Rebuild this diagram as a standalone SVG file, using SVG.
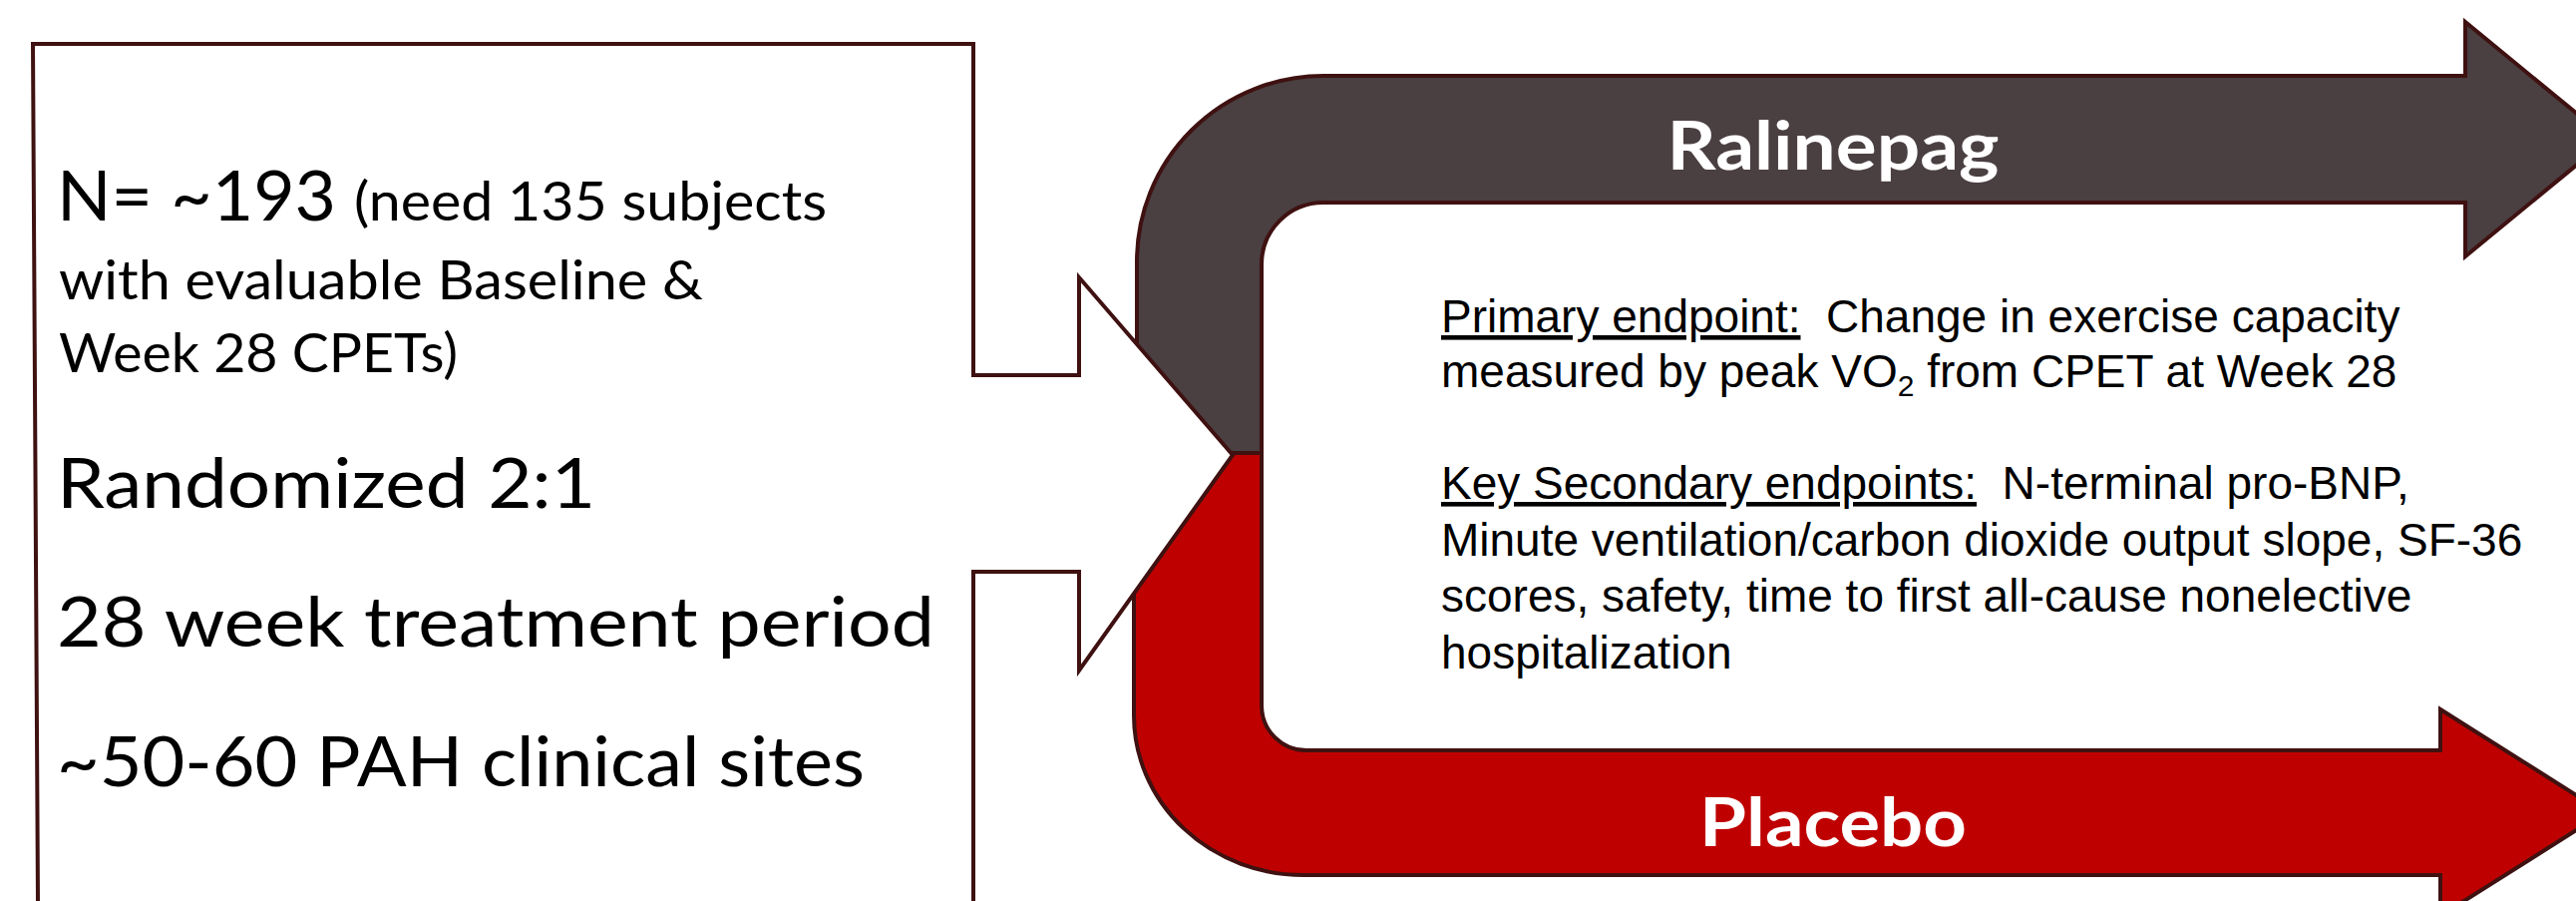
<svg xmlns="http://www.w3.org/2000/svg" width="2583" height="903" viewBox="0 0 2583 903">
<style>
.outline{stroke:#3f1111;stroke-width:4;stroke-linejoin:miter}
.gray{fill:#4a3f41}
.red{fill:#bf0000}
.box{fill:#ffffff}
.lt{font-family:Lato,"Open Sans","Liberation Sans",sans-serif;fill:#000000}
.big{font-size:70px}
.small{font-size:54px}
.arm{font-family:Lato,"Open Sans","Liberation Sans",sans-serif;font-weight:700;fill:#ffffff;font-size:66px}
.ep{font-family:"Liberation Sans",Arial,sans-serif;font-size:46px;fill:#000000}
.ul{text-decoration:underline}
</style>
<rect width="2583" height="903" fill="#ffffff"/>
<g id="connectors">
  <path id="arrow-ralinepag" class="outline gray" d="M1140,454 L1140,262 A187,186 0 0 1 1327,76 L2472,76 L2472,22 L2615,139.5 L2472,257 L2472,203 L1327,203 A62,62 0 0 0 1265,265 L1265,454 Z"/>
  <path id="arrow-placebo" class="outline red" d="M1265,454 L1265,707 A45,45 0 0 0 1310,752 L2447,752 L2447,711 L2611,814.5 L2447,918 L2447,877 L1307,877 A170,160 0 0 1 1137,717 L1137,454 Z"/>
</g>
<g id="node-ralinepag">
  <text class="arm" x="1838" y="170" text-anchor="middle" textLength="333" lengthAdjust="spacingAndGlyphs">Ralinepag</text>
</g>
<g id="node-placebo">
  <text class="arm" x="1838" y="848" text-anchor="middle" textLength="268" lengthAdjust="spacingAndGlyphs">Placebo</text>
</g>
<g id="node-study">
  <polygon class="outline box" points="33,44 976,44 976,376 1082,376 1082,278 1236,456 1082,672 1082,573 976,573 976,906 38,906"/>
  <text class="lt big" x="57" y="221" textLength="280" lengthAdjust="spacingAndGlyphs">N= ~193</text>
  <text class="lt small" x="355" y="221" textLength="474" lengthAdjust="spacingAndGlyphs">(need 135 subjects</text>
  <text class="lt small" x="59" y="300" textLength="646" lengthAdjust="spacingAndGlyphs">with evaluable Baseline &amp;</text>
  <text class="lt small" x="59" y="373" textLength="400" lengthAdjust="spacingAndGlyphs">Week 28 CPETs)</text>
  <text class="lt big" x="57" y="509" textLength="540" lengthAdjust="spacingAndGlyphs">Randomized 2:1</text>
  <text class="lt big" x="57" y="648" textLength="880" lengthAdjust="spacingAndGlyphs">28 week treatment period</text>
  <text class="lt big" x="57" y="788" textLength="810" lengthAdjust="spacingAndGlyphs">~50-60 PAH clinical sites</text>
</g>
<g id="node-endpoints">
  <text class="ep" x="1445" y="333"><tspan class="ul">Primary endpoint:</tspan>&#160; Change in exercise capacity</text>
  <text class="ep" x="1445" y="388">measured by peak VO<tspan dy="9" font-size="30">2</tspan><tspan dy="-9"> from CPET at Week 28</tspan></text>
  <text class="ep" x="1445" y="500"><tspan class="ul">Key Secondary endpoints:</tspan>&#160; N-terminal pro-BNP,</text>
  <text class="ep" x="1445" y="557">Minute ventilation/carbon dioxide output slope, SF-36</text>
  <text class="ep" x="1445" y="613">scores, safety, time to first all-cause nonelective</text>
  <text class="ep" x="1445" y="670">hospitalization</text>
</g>
</svg>
